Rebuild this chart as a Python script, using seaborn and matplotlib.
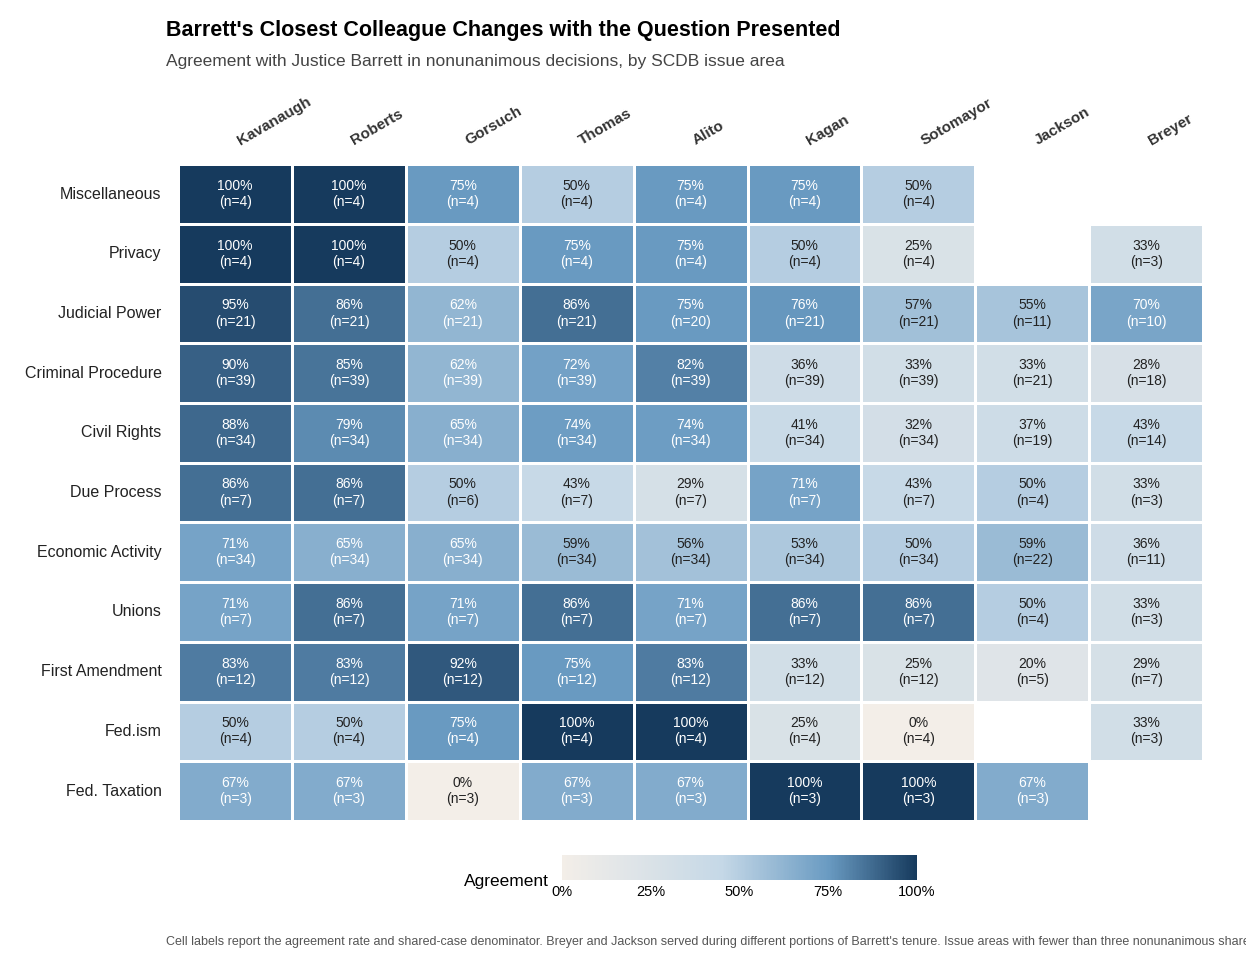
import numpy as np
import pandas as pd
import matplotlib
matplotlib.use("Agg")
import matplotlib.pyplot as plt
from matplotlib.colors import LinearSegmentedColormap
import seaborn as sns

justices = ["Kavanaugh", "Roberts", "Gorsuch", "Thomas", "Alito", "Kagan", "Sotomayor", "Jackson", "Breyer"]
issues = ["Miscellaneous", "Privacy", "Judicial Power", "Criminal Procedure", "Civil Rights", "Due Process",
          "Economic Activity", "Unions", "First Amendment", "Fed.ism", "Fed. Taxation"]
N = np.nan
pct = [
    [100, 100, 75, 50, 75, 75, 50, N, N],
    [100, 100, 50, 75, 75, 50, 25, N, 33],
    [95, 86, 62, 86, 75, 76, 57, 55, 70],
    [90, 85, 62, 72, 82, 36, 33, 33, 28],
    [88, 79, 65, 74, 74, 41, 32, 37, 43],
    [86, 86, 50, 43, 29, 71, 43, 50, 33],
    [71, 65, 65, 59, 56, 53, 50, 59, 36],
    [71, 86, 71, 86, 71, 86, 86, 50, 33],
    [83, 83, 92, 75, 83, 33, 25, 20, 29],
    [50, 50, 75, 100, 100, 25, 0, N, 33],
    [67, 67, 0, 67, 67, 100, 100, 67, N],
]
ncase = [
    [4, 4, 4, 4, 4, 4, 4, N, N],
    [4, 4, 4, 4, 4, 4, 4, N, 3],
    [21, 21, 21, 21, 20, 21, 21, 11, 10],
    [39, 39, 39, 39, 39, 39, 39, 21, 18],
    [34, 34, 34, 34, 34, 34, 34, 19, 14],
    [7, 7, 6, 7, 7, 7, 7, 4, 3],
    [34, 34, 34, 34, 34, 34, 34, 22, 11],
    [7, 7, 7, 7, 7, 7, 7, 4, 3],
    [12, 12, 12, 12, 12, 12, 12, 5, 7],
    [4, 4, 4, 4, 4, 4, 4, N, 3],
    [3, 3, 3, 3, 3, 3, 3, 3, N],
]

df = pd.DataFrame(pct, index=issues, columns=justices)
nd = pd.DataFrame(ncase, index=issues, columns=justices)
labels = df.copy().astype(object)
for i in issues:
    for j in justices:
        v = df.loc[i, j]
        labels.loc[i, j] = "" if np.isnan(v) else f"{int(v)}%\n(n={int(nd.loc[i, j])})"

cmap = LinearSegmentedColormap.from_list("agr", [(0, "#f3eee8"), (0.45, "#c5d8e7"),
                                                 (0.75, "#6a9bc2"), (1, "#163a5d")])

plt.rcParams['font.family'] = ['Liberation Sans', 'DejaVu Sans']
fig = plt.figure(figsize=(12.46, 9.63), dpi=100)
ax = fig.add_axes([0.143, 0.1475, 0.8225, 0.682])
cax = fig.add_axes([0.451, 0.0862, 0.285, 0.026])
sns.heatmap(df, ax=ax, cmap=cmap, vmin=0, vmax=100, annot=labels.values, fmt="",
            linewidths=2, linecolor="white", cbar_ax=cax,
            cbar_kws={"orientation": "horizontal", "ticks": [0, 25, 50, 75, 100]},
            annot_kws={"fontsize": 10})
for t, v in zip(ax.texts, [x for row in pct for x in row if not np.isnan(x)]):
    t.set_color("white" if v >= 60 else "#222222")
ax.xaxis.tick_top()
ax.set_xticklabels(justices, rotation=30, ha="left", fontsize=11, color="#333333", fontweight="bold")
ax.set_yticklabels(issues, rotation=0, fontsize=11.5, color="#222222")
ax.tick_params(length=0, pad=12)
ax.set_xlabel(""); ax.set_ylabel("")
cax.set_xticklabels(["0%", "25%", "50%", "75%", "100%"])
cax.tick_params(length=0, labelsize=10.5)
for s in cax.spines.values():
    s.set_visible(False)
fig.text(0.372, 0.077, "Agreement", fontsize=12.5, ha="left", va="bottom")
fig.text(0.133, 0.957, "Barrett's Closest Colleague Changes with the Question Presented",
         fontsize=15.5, fontweight="bold", va="bottom")
fig.text(0.133, 0.928, "Agreement with Justice Barrett in nonunanimous decisions, by SCDB issue area",
         fontsize=12.5, color="#444444", va="bottom")
fig.text(0.133, 0.019, "Cell labels report the agreement rate and shared-case denominator. Breyer and Jackson served during different portions of Barrett's tenure. Issue areas with fewer than three nonunanimous shared cases are omitted.",
         fontsize=9, color="#555555")
fig.savefig("out.png", dpi=100, facecolor="white")
